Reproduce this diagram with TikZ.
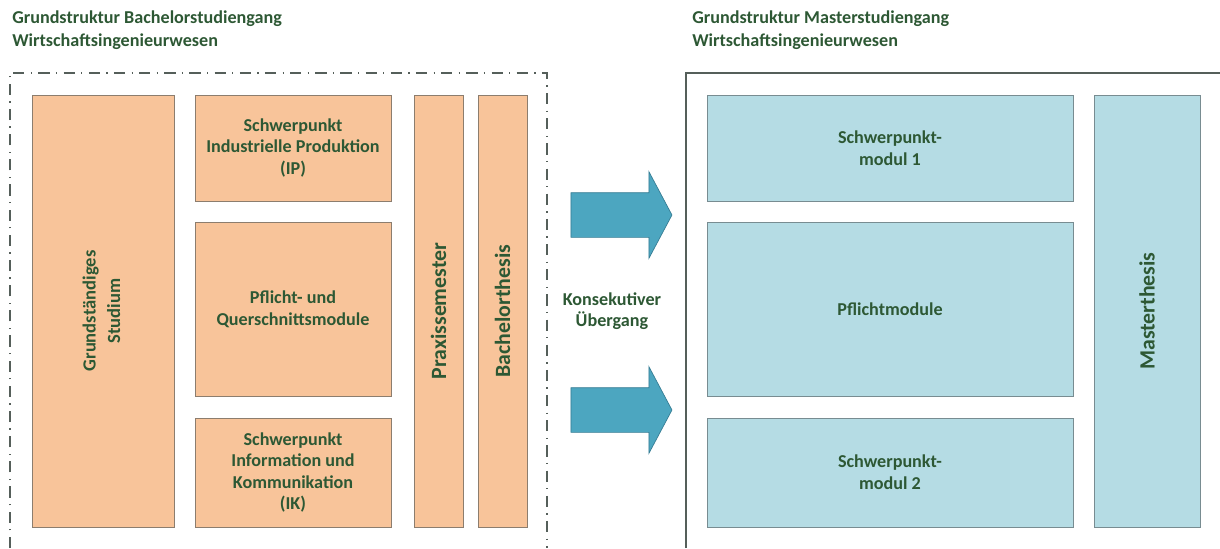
\documentclass[tikz,border=0pt]{standalone}
\usepackage{fontspec}
\setmainfont{Carlito}
\usetikzlibrary{shapes.arrows}
\definecolor{txtgreen}{RGB}{45,88,52}
\definecolor{orangefill}{RGB}{248,196,154}
\definecolor{orangeline}{RGB}{140,125,110}
\definecolor{bluefill}{RGB}{181,220,228}
\definecolor{blueline}{RGB}{120,140,145}
\definecolor{arrowfill}{RGB}{76,166,192}
\definecolor{arrowline}{RGB}{55,125,148}
\definecolor{frameline}{RGB}{85,95,90}
\newcommand{\pxl}[1]{#1*0.025cm}
\newcommand{\boxfont}[0]{\fontsize{12.9}{15.4}\selectfont\bfseries}
\newcommand{\sidefont}[0]{\fontsize{15.5}{18}\selectfont}

\begin{document}
\begin{tikzpicture}[x=0.025cm, y=-0.025cm]
  \tikzset{modbox/.style={rectangle, draw=orangeline, fill=orangefill, line width=0.6pt,
             inner sep=0pt, align=center, text=txtgreen, font=\boxfont},
           masterbox/.style={modbox, draw=blueline, fill=bluefill},
           headline/.style={anchor=north west, align=left, inner sep=0pt, text=txtgreen,
             font=\fontsize{12.9}{16.5}\selectfont\bfseries},
           bigarrow/.style={single arrow, draw=arrowline, fill=arrowfill, line width=0.5pt,
             inner xsep=0pt, inner ysep=\pxl{22}, minimum height=\pxl{101},
             single arrow head extend=\pxl{21}, single arrow tip angle=124}}
  \useasboundingbox (0,0) rectangle (1220,548);
  % Bachelor
  \node[headline] (bachtitle) at (12,10) {Grundstruktur Bachelorstudiengang\\Wirtschaftsingenieurwesen};
  \draw[frameline, line width=0.9pt, dash pattern=on 8pt off 4.5pt on 0.9pt off 4.5pt]
    (10,548) -- (10,73) -- (547,73) -- (547,548);
  \node[modbox, minimum width=\pxl{142}, minimum height=\pxl{432}] (grund) at (103,311)
    {\rotatebox{90}{\fontsize{13.2}{17.5}\selectfont
      \begin{tabular}{@{}c@{}}Grundständiges\\Studium\end{tabular}}};
  \node[modbox, minimum width=\pxl{196}, minimum height=\pxl{106}] (ip) at (293,148)
    {Schwerpunkt\\Industrielle Produktion\\(IP)};
  \node[modbox, minimum width=\pxl{196}, minimum height=\pxl{174}] (pflicht) at (293,309)
    {Pflicht- und\\Querschnittsmodule};
  \node[modbox, minimum width=\pxl{196}, minimum height=\pxl{109}] (ik) at (293,472.5)
    {Schwerpunkt\\Information und\\Kommunikation\\(IK)};
  \node[modbox, minimum width=\pxl{49}, minimum height=\pxl{432}] (praxis) at (438.5,311)
    {\rotatebox{90}{\sidefont Praxissemester}};
  \node[modbox, minimum width=\pxl{49}, minimum height=\pxl{432}] (bthesis) at (502.5,311)
    {\rotatebox{90}{\sidefont Bachelorthesis}};
  % Uebergang
  \node[bigarrow] (arrowup) at (615.5,215) {};
  \node[bigarrow] (arrowdown) at (615.5,410) {};
  \node[align=center, text=txtgreen, font=\boxfont] (konsek) at (612,311)
    {Konsekutiver\\Übergang};
  % Master
  \node[headline] (mastertitle) at (692,10) {Grundstruktur Masterstudiengang\\Wirtschaftsingenieurwesen};
  \draw[frameline, line width=1.1pt] (686,548) -- (686,73) -- (1220,73);
  \node[masterbox, minimum width=\pxl{366}, minimum height=\pxl{106}] (smod1) at (890,148)
    {Schwerpunkt-\\modul 1};
  \node[masterbox, minimum width=\pxl{366}, minimum height=\pxl{174}] (pmod) at (890,309)
    {Pflichtmodule};
  \node[masterbox, minimum width=\pxl{366}, minimum height=\pxl{109}] (smod2) at (890,472.5)
    {Schwerpunkt-\\modul 2};
  \node[masterbox, minimum width=\pxl{106}, minimum height=\pxl{432}] (mthesis) at (1147,311)
    {\rotatebox{90}{\sidefont Masterthesis}};
\end{tikzpicture}
\end{document}
